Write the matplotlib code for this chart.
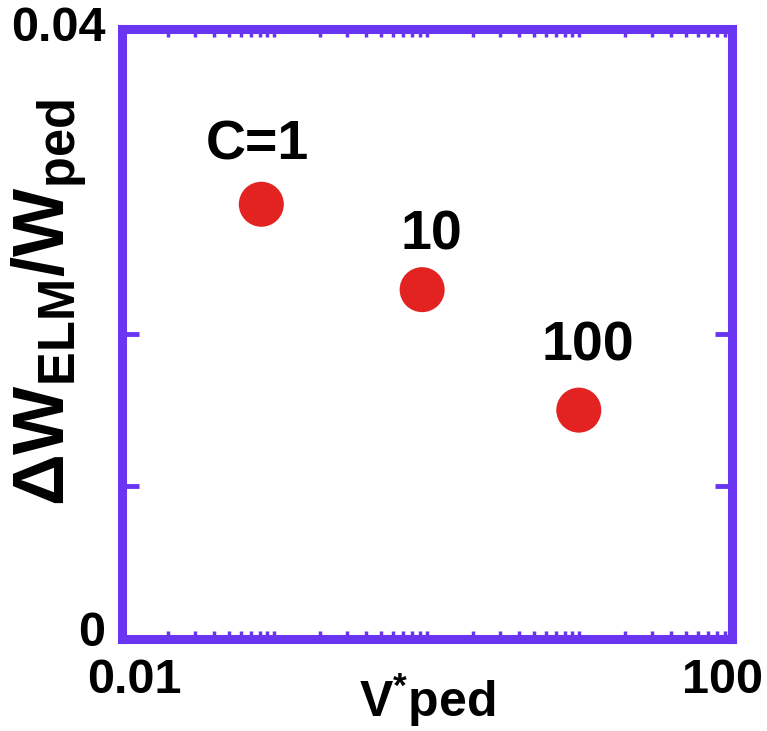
import matplotlib
matplotlib.use("Agg")
import matplotlib.pyplot as plt
from matplotlib.ticker import FixedLocator, LogLocator, NullFormatter

# Collisionality scan: one point per C
collisionality = [0.082, 0.93, 9.9]
elm_loss = [0.0285, 0.0229, 0.0150]
point_labels = ["C=1", "10", "100"]

xtick_values = [0.01, 100]
xtick_labels = ["0.01", "100"]
ytick_values = [0, 0.01, 0.02, 0.04]
ytick_labels = ["0", "", "", "0.04"]

frame_color = "#6a35f0"
dot_color = "#e32222"

plt.rcParams["font.family"] = ["Liberation Sans", "DejaVu Sans"]
plt.rcParams["font.weight"] = "bold"
plt.rcParams["mathtext.fontset"] = "custom"
plt.rcParams["mathtext.rm"] = "Liberation Sans:bold"
plt.rcParams["mathtext.it"] = "Liberation Sans:bold"
plt.rcParams["mathtext.bf"] = "Liberation Sans:bold"

fig = plt.figure(figsize=(7.67, 7.31), dpi=100)
ax = fig.add_axes([0.159, 0.126, 0.7953, 0.8345])

ax.scatter(collisionality, elm_loss, s=1050, color=dot_color, edgecolors="none", zorder=3)

# labels sit above each point
label_offsets = [(-3, 32), (6.5, 29), (6.5, 36)]
for x, y, txt, off in zip(collisionality, elm_loss, point_labels, label_offsets):
    ax.annotate(txt, (x, y), xytext=off, textcoords="offset points",
                ha="center", va="baseline", fontsize=40, fontweight="bold")

ax.set_xscale("log")
ax.set_xlim(0.01, 100)
ax.set_ylim(0, 0.04)

ax.xaxis.set_major_locator(FixedLocator(xtick_values))
ax.xaxis.set_minor_locator(LogLocator(base=10, subs=range(1, 10), numticks=20))
ax.xaxis.set_minor_formatter(NullFormatter())
ax.set_yticks(ytick_values)

for side in ax.spines.values():
    side.set_color(frame_color)
    side.set_linewidth(6.5)

ax.tick_params(which="both", direction="in", top=True, right=True,
               color=frame_color, labelbottom=False, labelleft=False)
ax.tick_params(which="major", length=12, width=3.5)
ax.tick_params(which="minor", length=6, width=2.5)

# end labels of the axes, nudged inward
x_nudge = [9, -7]
for val, txt, dx in zip(xtick_values, xtick_labels, x_nudge):
    ax.annotate(txt, (val, 0), xycoords=("data", "axes fraction"),
                xytext=(dx, -14), textcoords="offset points",
                ha="center", va="top", fontsize=35, fontweight="bold")
y_nudge = [4, 0]
for val, txt, dy in zip([ytick_values[0], ytick_values[-1]],
                        [ytick_labels[0], ytick_labels[-1]], y_nudge):
    ax.annotate(txt, (0, val), xycoords=("axes fraction", "data"),
                xytext=(-12, dy), textcoords="offset points",
                ha="right", va="center", fontsize=35, fontweight="bold")

# axis titles
ax.text(0.5, -0.1, r"$\mathbf{V^{*}ped}$", transform=ax.transAxes,
        ha="center", va="center", fontsize=36)
ax.text(-0.12, 0.551, r"$\mathbf{\Delta W_{ELM}/W_{ped}}$", transform=ax.transAxes,
        rotation=90, ha="center", va="center", fontsize=52)

fig.savefig("out.png", dpi=100)
